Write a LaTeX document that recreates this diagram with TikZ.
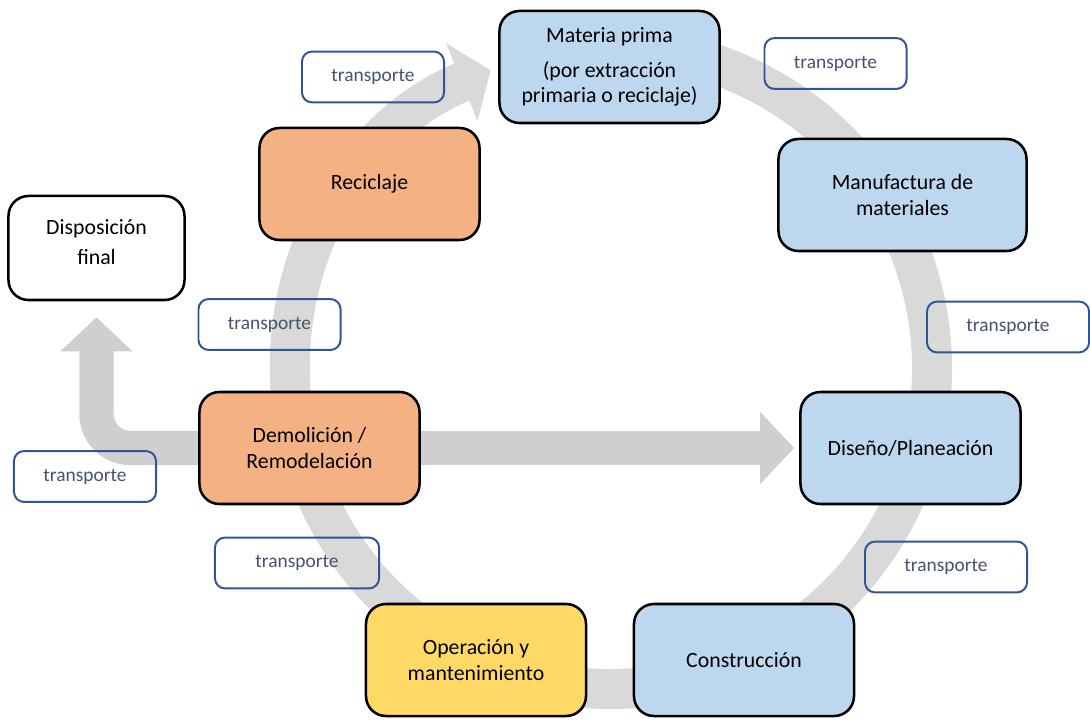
\documentclass[tikz,border=0pt]{standalone}
\usepackage{fontspec}
\setmainfont{Carlito}
\usepackage{tikz}
\usetikzlibrary{arrows.meta}
\usetikzlibrary{backgrounds}
\definecolor{azul}{HTML}{BDD7EE}
\definecolor{naranja}{HTML}{F4B183}
\definecolor{amarillo}{HTML}{FFD966}
\definecolor{bordeazul}{HTML}{2F5597}
\definecolor{textogris}{HTML}{44546A}
\definecolor{grisanillo}{HTML}{D9D9D9}
\definecolor{grisflecha}{HTML}{D0CECE}
\tikzset{
	etapa/.style={
		draw,
		line width=1.8pt,
		rounded corners=0.5cm,
		minimum width=5.5cm,
		minimum height=2.8cm,
		align=center,
		font=\fontsize{15.5}{18}\selectfont,
	},
	trans/.style={
		draw=bordeazul,
		line width=1.4pt,
		rounded corners=0.25cm,
		minimum width=3.55cm,
		minimum height=1.27cm,
		text=textogris,
		font=\fontsize{13.8}{16}\selectfont,
	},
	flecha/.style={
		draw=grisflecha,
		line width=0.86cm,
		-{Triangle[length=0.85cm,width=1.75cm]},
	},
	anillo/.style={
		draw=grisanillo,
		line width=1cm,
		-{Triangle[length=0.78cm,width=2.05cm]},
	}
}
\begin{document}
\begin{tikzpicture}[x=0.025cm,y=-0.025cm]
								\useasboundingbox (0,0) rectangle (1090,720);
								
								\node[etapa, fill=azul] (mat) at (609.5,67) {Materia prima\\[7pt](por extracción\\primaria o reciclaje)};
								\node[etapa, fill=azul, minimum width=6.2cm] (manu) at (902.5,195) {Manufactura de\\materiales};
								\node[etapa, fill=azul] (dise) at (910.5,448) {Diseño/Planeación};
								\node[etapa, fill=azul] (cons) at (744,660) {Construcción};
								\node[etapa, fill=amarillo] (oper) at (476,660) {Operación y\\mantenimiento};
								\node[etapa, fill=naranja] (demo) at (309.5,448) {Demolición /\\Remodelación};
								\node[etapa, fill=naranja] (reci) at (369.5,184) {Reciclaje};
								\node[etapa, minimum width=4.4cm, minimum height=2.6cm, text depth=0.3cm] (disp) at (96.5,248) {Disposición\\[4pt]final};
								
								\node[trans] (t1) at (373,77) {transporte};
								\node[trans] (t2) at (835.5,63.5) {transporte};
								\node[trans, minimum width=4.05cm] (t3) at (1008,327) {transporte};
								\node[trans, minimum width=4.05cm] (t4) at (946,567) {transporte};
								\node[trans, minimum width=4.1cm] (t5) at (297,563) {transporte};
								\node[trans] (t6) at (85,476.5) {transporte};
								\node[trans] (t7) at (269.5,324.5) {transporte};
								
								\begin{scope}[on background layer]
									\coordinate (centro) at (611,368);
									\draw[anillo] ([shift={(-105:321)}]centro) arc[start angle=-105, end angle=248, radius=321];
									\draw[flecha, shorten >=0.125cm] (demo) -- (dise);
									\draw[flecha, rounded corners=0.85cm, shorten >=0.4cm] (demo.west) -| (disp);
								\end{scope}
								
							\end{tikzpicture}
\end{document}
